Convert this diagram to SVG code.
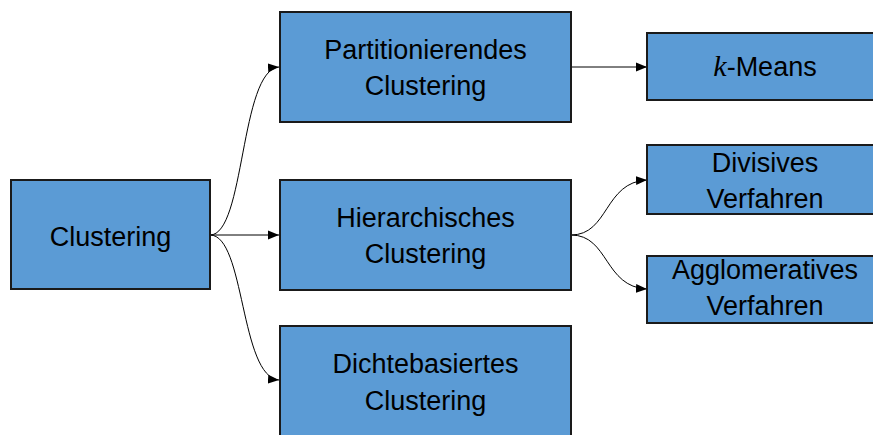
<svg xmlns="http://www.w3.org/2000/svg" width="873" height="435" viewBox="0 0 873 435">
<defs>
<style>
.box{fill:#5B9BD5;stroke:#1a1a1a;stroke-width:2}
.lbl{font-family:"Liberation Sans",Arial,sans-serif;font-size:27px;fill:#000;text-anchor:middle}
.con{fill:none;stroke:#000;stroke-width:1}
</style>
<marker id="arr" viewBox="0 0 10 10" refX="10" refY="5" markerWidth="11" markerHeight="11" markerUnits="userSpaceOnUse" orient="auto">
<path d="M0,1 L10,5 L0,9 Z" fill="#000"/>
</marker>
</defs>
<rect width="873" height="435" fill="#fff"/>
<g id="connectors">
<path class="con" d="M210,235 L279,235" marker-end="url(#arr)"/>
<path class="con" d="M210,235 C245,235 240,70 279,67" marker-end="url(#arr)"/>
<path class="con" d="M210,235 C245,235 240,377 279,380" marker-end="url(#arr)"/>
<path class="con" d="M571,67 L647,67" marker-end="url(#arr)"/>
<path class="con" d="M571,235 C609,235 604,182 647,180" marker-end="url(#arr)"/>
<path class="con" d="M571,235 C609,235 604,287 647,289" marker-end="url(#arr)"/>
</g>
<g id="clustering">
<rect class="box" x="11" y="180" width="199" height="109"/>
<text class="lbl" x="110.5" y="246">Clustering</text>
</g>
<g id="partitionierendes">
<rect class="box" x="280" y="12" width="291" height="110"/>
<text class="lbl" x="425.5" y="59">Partitionierendes</text>
<text class="lbl" x="425.5" y="95">Clustering</text>
</g>
<g id="hierarchisches">
<rect class="box" x="280" y="180" width="291" height="110"/>
<text class="lbl" x="425.5" y="227">Hierarchisches</text>
<text class="lbl" x="425.5" y="263">Clustering</text>
</g>
<g id="dichtebasiertes">
<rect class="box" x="280" y="326" width="291" height="110"/>
<text class="lbl" x="425.5" y="373">Dichtebasiertes</text>
<text class="lbl" x="425.5" y="410">Clustering</text>
</g>
<g id="kmeans">
<rect class="box" x="647" y="33" width="236" height="67"/>
<text class="lbl" x="765" y="76"><tspan font-family="Liberation Serif" font-style="italic" font-size="30">k</tspan>-Means</text>
</g>
<g id="divisives">
<rect class="box" x="647" y="145" width="236" height="69"/>
<text class="lbl" x="765" y="172">Divisives</text>
<text class="lbl" x="765" y="208">Verfahren</text>
</g>
<g id="agglomeratives">
<rect class="box" x="647" y="256" width="236" height="67"/>
<text class="lbl" x="765" y="279">Agglomeratives</text>
<text class="lbl" x="765" y="315">Verfahren</text>
</g>
</svg>
